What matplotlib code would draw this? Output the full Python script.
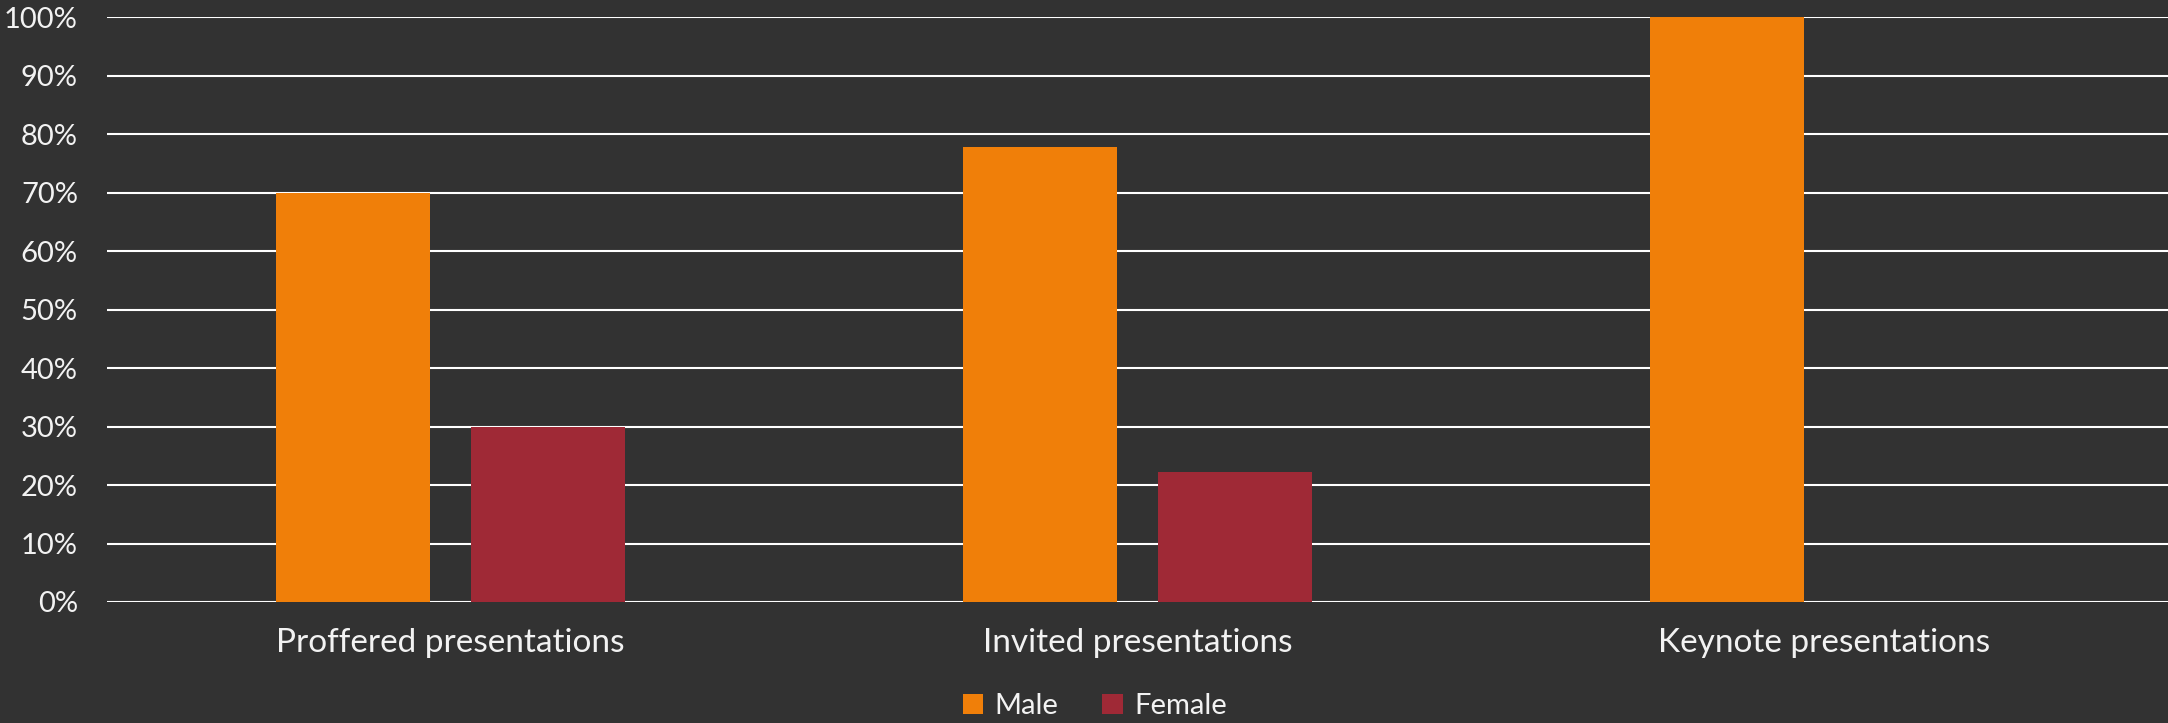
import numpy as np
import matplotlib.pyplot as plt
from matplotlib.ticker import PercentFormatter

# data
categories = ["Proffered presentations", "Invited presentations", "Keynote presentations"]
male = [70.0, 77.8, 100.0]
female = [30.0, 22.2, 0.0]
yticks = [0, 10, 20, 30, 40, 50, 60, 70, 80, 90, 100]

bg = "#323232"
txt = "#f2f2f2"
c_male = "#F07F09"
c_female = "#9F2936"

plt.rcParams['font.family'] = ['Lato', 'DejaVu Sans']

fig = plt.figure(figsize=(21.68, 7.23), dpi=100, facecolor=bg)
ax = fig.add_axes([0.0494, 0.1674, 0.9506, 0.8087], facecolor=bg)

x = np.arange(len(categories))
w = 0.224
gap = 0.06
ax.bar(x - (w + gap) / 2, male, w, color=c_male, label="Male", zorder=3)
ax.bar(x + (w + gap) / 2, female, w, color=c_female, label="Female", zorder=3)

ax.set_xlim(-0.5, 2.5)
ax.set_ylim(0, 100)
ax.set_yticks(yticks)
ax.yaxis.set_major_formatter(PercentFormatter(decimals=0))
ax.set_xticks(x)
ax.set_xticklabels(categories)

ax.grid(axis="y", color="white", linewidth=1.5, zorder=1)
ax.set_axisbelow(True)
for s in ax.spines.values():
    s.set_visible(False)
ax.tick_params(axis="y", length=0, pad=21, labelsize=21, labelcolor=txt)
ax.tick_params(axis="x", length=0, pad=19, labelsize=24, labelcolor=txt)

leg = fig.legend(loc="center", bbox_to_anchor=(0.505, 0.023), ncol=2, frameon=False,
                 fontsize=21, handlelength=0.7, handleheight=0.7, handletextpad=0.4,
                 columnspacing=1.5, labelcolor=txt)

fig.savefig("out.png", dpi=100, facecolor=bg)
